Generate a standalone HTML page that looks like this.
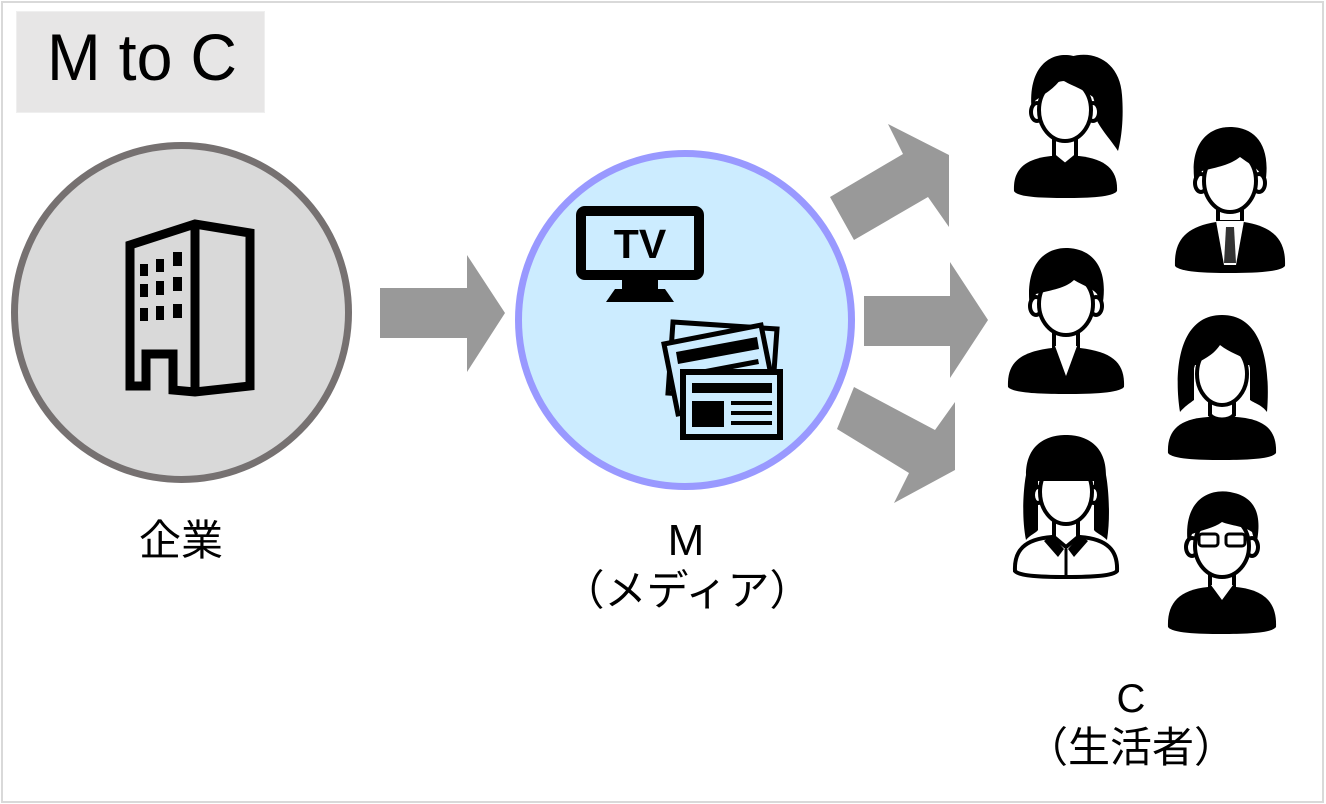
<!DOCTYPE html>
<html><head><meta charset="utf-8"><style>
html,body{margin:0;padding:0;background:#fff;}
svg{display:block;}
text{font-family:"Liberation Sans","Noto Sans CJK JP",sans-serif;}
</style></head><body>
<svg width="1326" height="804" viewBox="0 0 1326 804" xmlns="http://www.w3.org/2000/svg">
<rect x="0" y="0" width="1326" height="804" fill="#fff"/>
<rect x="2" y="2" width="1321" height="800" fill="none" stroke="#d9d9d9" stroke-width="2"/>

<!-- title -->
<rect x="16.5" y="11.5" width="248" height="101" fill="#e7e6e6" stroke="#efefef" stroke-width="1"/>
<text x="47" y="80" font-size="66" fill="#000" textLength="190" lengthAdjust="spacingAndGlyphs">M to C</text>

<!-- company circle -->
<circle cx="181.5" cy="312.5" r="167" fill="#d9d9d9" stroke="#767171" stroke-width="7"/>
<path d="M130,386 L130,245 L195,224 L250,233 L250,386 L195,392 L173,390 L173,354 L146,354 L146,386 Z M195,224 L195,392" fill="none" stroke="#000" stroke-width="9" stroke-linejoin="miter"/>
<g fill="#000">
<rect x="140" y="264" width="8" height="12"/><rect x="156" y="259" width="8" height="13"/><rect x="173" y="252" width="9" height="14"/>
<rect x="140" y="284" width="8" height="13"/><rect x="156" y="281" width="8" height="14"/><rect x="173" y="277" width="9" height="14"/>
<rect x="140" y="308" width="8" height="13"/><rect x="156" y="306" width="8" height="14"/><rect x="173" y="304" width="9" height="14"/>
</g>

<!-- arrows -->
<g fill="#999">
<polygon points="380,288 467,288 467,255 505,313 467,372 467,338 380,338"/>
<polygon points="864,296 950,296 950,262 988,320 950,378 950,346 864,346"/>
<polygon points="830,197 903,154 888,124 949,155 949,227 928,197 854,240"/>
<polygon points="854,387 935,430 955,402 955,470 894,503 909,473 837,429"/>
</g>

<!-- media circle -->
<circle cx="685" cy="320" r="166.5" fill="#ccecff" stroke="#9999ff" stroke-width="7"/>
<!-- TV -->
<rect x="581" y="211" width="118" height="64" rx="4" fill="#ccecff" stroke="#000" stroke-width="10"/>
<rect x="622" y="279" width="36" height="10" fill="#000"/>
<polygon points="615,289 665,289 674,302 606,302" fill="#000"/>
<text x="640" y="258" font-size="41" font-weight="bold" text-anchor="middle" fill="#000">TV</text>
<!-- newspapers -->
<polygon points="673,322 777,329 772,400 668,393" fill="#ccecff" stroke="#000" stroke-width="5" stroke-linejoin="miter"/>
<polygon points="664,344 761,325 775,395 678,414" fill="#ccecff" stroke="#000" stroke-width="5" stroke-linejoin="miter"/>
<polygon points="676,352 757,337 759,349 678,364" fill="#000"/>
<polygon points="700,370 758,359 759,364 701,375" fill="#000"/>
<rect x="683" y="372" width="97" height="65" fill="#ccecff" stroke="#000" stroke-width="6"/>
<rect x="692" y="383" width="80" height="10" fill="#000"/>
<rect x="692" y="401" width="32" height="26" fill="#000"/>
<rect x="731" y="401" width="41" height="4" fill="#000"/>
<rect x="731" y="411" width="41" height="4" fill="#000"/>
<rect x="731" y="421" width="41" height="4" fill="#000"/>

<!-- people -->
<!-- P1 ponytail woman -->
<g transform="translate(1065,55)">
<path d="M5,2 C30,-6 55,8 57,40 C59,65 56,85 53,96 C46,85 36,75 30,62 C34,40 30,15 5,2 Z" fill="#000"/>
<path d="M-51,136 C-52,116 -42,104 -14,101 L14,101 C42,104 53,116 52,136 C48,142 25,143 0,143 C-25,143 -48,142 -51,136 Z" fill="#000"/>
<path d="M-11,72 L-11,101 L0,110 L11,101 L11,72 Z" fill="#fff" stroke="#000" stroke-width="4"/>
<ellipse cx="-28" cy="57" rx="6" ry="9" fill="#fff" stroke="#000" stroke-width="4"/>
<ellipse cx="28" cy="57" rx="6" ry="9" fill="#fff" stroke="#000" stroke-width="4"/>
<ellipse cx="0" cy="55" rx="26" ry="31" fill="#fff" stroke="#000" stroke-width="4"/>
<path d="M-33,58 C-38,15 -18,0 0,0 C20,0 36,15 33,58 L28,42 C15,32 4,30 -4,24 C-13,36 -23,40 -30,46 Z" fill="#000"/>
</g>

<!-- P2 suit man -->
<g transform="translate(1230,127)">
<path d="M-55,139 C-56,114 -45,100 -14,95 L14,95 C45,100 56,114 55,139 C50,145 25,146 0,146 C-25,146 -50,145 -55,139 Z" fill="#000"/>
<path d="M-12,72 L-12,95 L12,95 L12,72 Z" fill="#fff" stroke="#000" stroke-width="4"/>
<polygon points="-14,94 14,94 6,138 -6,138" fill="#fff"/>
<polygon points="-4,100 4,100 6,136 -6,136" fill="#333"/>
<ellipse cx="-29" cy="56" rx="6" ry="9" fill="#fff" stroke="#000" stroke-width="4"/>
<ellipse cx="29" cy="56" rx="6" ry="9" fill="#fff" stroke="#000" stroke-width="4"/>
<ellipse cx="0" cy="54" rx="26" ry="31" fill="#fff" stroke="#000" stroke-width="4"/>
<path d="M-35,58 C-42,15 -20,-1 2,0 C25,1 42,18 35,58 L30,46 C26,40 18,36 10,30 C0,38 -12,40 -28,44 Z" fill="#000"/>
</g>

<!-- P3 short hair man -->
<g transform="translate(1066,248)">
<path d="M-58,139 C-59,116 -48,104 -14,100 L14,100 C48,104 59,116 58,139 C53,145 27,146 0,146 C-27,146 -53,145 -58,139 Z" fill="#000"/>
<path d="M-12,74 L-12,100 L0,130 L12,100 L12,74 Z" fill="#fff" stroke="#000" stroke-width="4"/>
<polygon points="-11,98 11,98 0,128" fill="#fff"/>
<ellipse cx="-30" cy="58" rx="6" ry="9" fill="#fff" stroke="#000" stroke-width="4"/>
<ellipse cx="30" cy="58" rx="6" ry="9" fill="#fff" stroke="#000" stroke-width="4"/>
<ellipse cx="0" cy="56" rx="27" ry="31" fill="#fff" stroke="#000" stroke-width="4"/>
<path d="M-36,60 C-42,15 -20,-1 2,0 C25,1 44,18 36,60 L31,46 C26,40 18,38 8,32 C0,40 -14,42 -30,46 Z" fill="#000"/>
</g>

<!-- P4 long hair woman -->
<g transform="translate(1222,315)">
<path d="M-42,97 C-48,60 -45,0 0,0 C45,0 48,60 45,97 C40,90 32,88 28,85 L28,50 L-28,50 L-28,85 C-32,88 -38,92 -42,97 Z" fill="#000"/>
<path d="M-54,138 C-55,116 -44,104 -14,102 L14,102 C44,104 55,116 54,138 C50,144 25,145 0,145 C-25,145 -50,144 -54,138 Z" fill="#000"/>
<path d="M-12,76 L-12,100 C-6,106 6,106 12,100 L12,76 Z" fill="#fff" stroke="#000" stroke-width="4"/>
<ellipse cx="0" cy="59" rx="25" ry="31" fill="#fff" stroke="#000" stroke-width="4"/>
<path d="M-30,60 C-32,20 -18,4 0,4 C18,4 32,20 30,60 L26,46 C18,40 8,38 -2,30 C-10,42 -20,44 -27,50 Z" fill="#000"/>
</g>

<!-- P5 bangs woman -->
<g transform="translate(1066,435)">
<path d="M-40,105 C-45,80 -42,50 -40,40 C-40,10 -20,0 0,0 C20,0 40,10 40,40 C42,50 45,80 41,105 C36,100 30,98 28,95 L28,42 L-28,42 L-28,95 C-30,98 -36,100 -40,105 Z" fill="#000"/>
<path d="M-51,136 C-52,116 -42,104 -14,102 L14,102 C42,104 52,116 51,136 C47,141 25,142 0,142 C-25,142 -47,141 -51,136 Z" fill="#fff" stroke="#000" stroke-width="4"/>
<path d="M-12,74 L-12,102 L0,112 L12,102 L12,74 Z" fill="#fff" stroke="#000" stroke-width="4"/>
<polygon points="-14,100 -2,114 -8,122 -22,106" fill="#000"/>
<polygon points="14,100 2,114 8,122 22,106" fill="#000"/>
<line x1="0" y1="114" x2="0" y2="142" stroke="#000" stroke-width="3"/>
<ellipse cx="-28" cy="60" rx="5" ry="8" fill="#fff" stroke="#000" stroke-width="4"/>
<ellipse cx="28" cy="60" rx="5" ry="8" fill="#fff" stroke="#000" stroke-width="4"/>
<ellipse cx="0" cy="57" rx="26" ry="32" fill="#fff" stroke="#000" stroke-width="4"/>
<path d="M-30,46 C-34,12 -18,2 0,2 C18,2 34,12 30,46 L-30,46 Z" fill="#000"/>
</g>

<!-- P6 glasses man -->
<g transform="translate(1222,490)">
<path d="M-54,137 C-55,114 -44,100 -14,97 L14,97 C44,100 55,114 54,137 C50,143 25,144 0,144 C-25,144 -50,143 -54,137 Z" fill="#000"/>
<path d="M-12,72 L-12,97 L0,112 L12,97 L12,72 Z" fill="#fff" stroke="#000" stroke-width="4"/>
<polygon points="-11,95 11,95 0,110" fill="#fff"/>
<ellipse cx="-30" cy="57" rx="6" ry="9" fill="#fff" stroke="#000" stroke-width="4"/>
<ellipse cx="30" cy="57" rx="6" ry="9" fill="#fff" stroke="#000" stroke-width="4"/>
<ellipse cx="0" cy="56" rx="27" ry="31" fill="#fff" stroke="#000" stroke-width="4"/>
<path d="M-34,56 C-40,12 -15,-2 8,2 C30,6 42,20 34,56 L30,42 C22,36 10,36 0,32 C-8,38 -20,40 -30,44 Z" fill="#000"/>
<rect x="-23" y="44" width="19" height="12" rx="3" fill="#fff" stroke="#000" stroke-width="3"/>
<rect x="4" y="44" width="19" height="12" rx="3" fill="#fff" stroke="#000" stroke-width="3"/>
</g>

<!-- labels -->
<text x="181" y="555" font-size="42" text-anchor="middle" fill="#000">企業</text>
<text x="686" y="555" font-size="44" text-anchor="middle" fill="#000">M</text>
<text x="687" y="605" font-size="42" text-anchor="middle" fill="#000">（メディア）</text>
<text x="1131" y="712" font-size="40" text-anchor="middle" fill="#000">C</text>
<text x="1131" y="762" font-size="42" text-anchor="middle" fill="#000">（生活者）</text>
</svg>
</body></html>
